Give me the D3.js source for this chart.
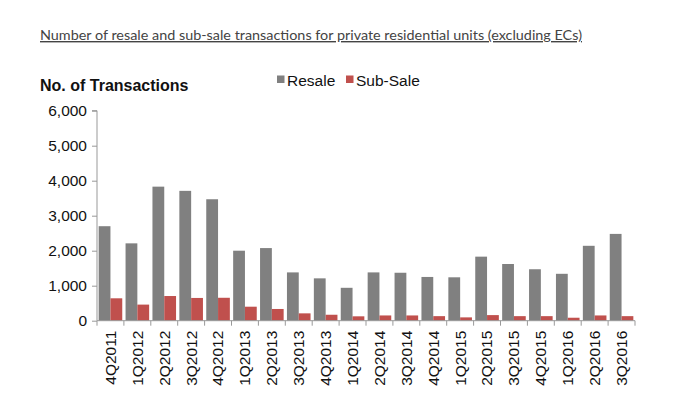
<!DOCTYPE html>
<html><head><meta charset="utf-8">
<script src="https://cdn.jsdelivr.net/npm/d3@7"></script>
<style>body{margin:0;background:#fff;}svg{display:block;}</style>
</head><body>
<svg id="c" width="698" height="419"></svg>
<script>
const categories = ["4Q2011","1Q2012","2Q2012","3Q2012","4Q2012","1Q2013","2Q2013","3Q2013","4Q2013","1Q2014","2Q2014","3Q2014","4Q2014","1Q2015","2Q2015","3Q2015","4Q2015","1Q2016","2Q2016","3Q2016"];
const resale = [2700,2210,3830,3710,3470,2000,2075,1380,1210,940,1380,1370,1250,1240,1830,1620,1470,1340,2140,2480];
const subSale = [640,460,705,650,655,400,335,210,170,125,150,150,130,95,160,130,130,85,150,130];
const yTicks = [0,1000,2000,3000,4000,5000,6000];
const seriesNames = ["Resale","Sub-Sale"];
const colors = ["#808080","#c0504d"];

(function(){
const svg = d3.select("#c");
const pLeft = 97, pRight = 635, pTop = 110.7, pBottom = 320.7;
const font = "'Liberation Sans', Arial, sans-serif";
const x = d3.scaleBand().domain(categories).range([pLeft,pRight]).paddingInner(0).paddingOuter(0);
const y = d3.scaleLinear().domain([0,6000]).range([pBottom, pTop]);
const x1 = d3.scaleBand().domain(seriesNames).range([0, x.bandwidth()]).paddingInner(0).paddingOuter(0.14);

svg.append("text").attr("x",40).attr("y",40).attr("font-family","Lato, 'Open Sans', sans-serif")
  .attr("font-size",14).attr("fill","#444").attr("text-decoration","underline")
  .attr("textLength",542).attr("lengthAdjust","spacingAndGlyphs")
  .text("Number of resale and sub-sale transactions for private residential units (excluding ECs)");

svg.append("text").attr("x",40).attr("y",91).attr("font-family",font)
  .attr("font-size",16).attr("font-weight","bold").attr("fill","#111").text("No. of Transactions");

const lg = svg.append("g");
[[277,"Resale"],[346,"Sub-Sale"]].forEach((d,i)=>{
  lg.append("rect").attr("x",d[0]).attr("y",75.5).attr("width",7.5).attr("height",7.5).attr("fill",colors[i]);
  lg.append("text").attr("x",d[0]+10).attr("y",86).attr("font-family",font)
    .attr("font-size",15.5).attr("fill","#111").text(d[1]);
});

const data = [resale, subSale];
const g = svg.append("g");
categories.forEach((c,i)=>{
  seriesNames.forEach((s,j)=>{
    g.append("rect").attr("x", x(c)+x1(s)).attr("width", x1.bandwidth())
      .attr("y", y(data[j][i])).attr("height", y(0)-y(data[j][i])).attr("fill", colors[j]);
  });
});

const ya = svg.append("g").attr("transform",`translate(${pLeft},0)`)
  .call(d3.axisLeft(y).tickValues(yTicks).tickFormat(d3.format(",")).tickSize(5).tickPadding(5));
ya.select(".domain").attr("stroke","#999").attr("d",`M-5,${pTop}H0V${pBottom}`);
ya.selectAll(".tick line").attr("stroke","#999");
ya.selectAll(".tick text").attr("font-family",font).attr("font-size",15.5).attr("fill","#111");

const xa = svg.append("g").attr("transform",`translate(0,${pBottom})`)
  .call(d3.axisBottom(x).tickSize(0).tickPadding(0));
xa.select(".domain").attr("stroke","#999").attr("d",`M${pLeft},0H${pRight}`);
xa.selectAll(".tick text").attr("font-family",font).attr("font-size",15.5).attr("fill","#111")
  .attr("transform","rotate(-90)").attr("text-anchor","end").attr("x",-10).attr("y",0).attr("dy","0.35em");
const bounds = categories.map(c=>x(c)).concat([pRight]);
xa.selectAll(".bt").data(bounds).enter().append("line").attr("class","bt")
  .attr("x1",d=>d).attr("x2",d=>d).attr("y1",0).attr("y2",5).attr("stroke","#999");
})();
</script>
</body></html>
